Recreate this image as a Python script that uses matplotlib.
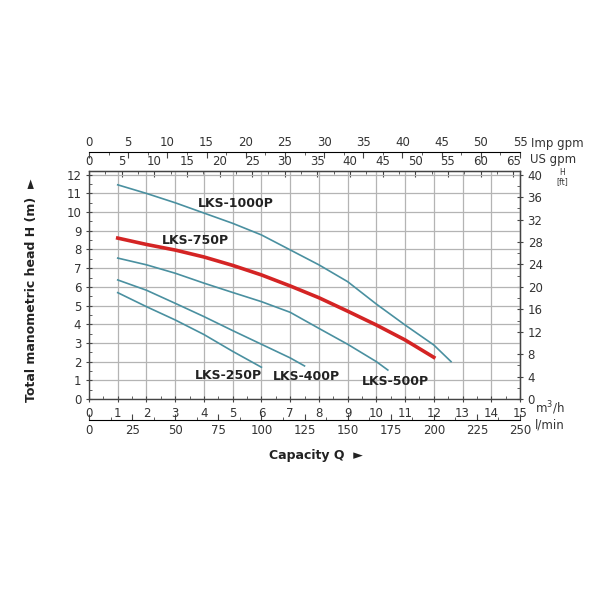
import matplotlib
matplotlib.use("Agg")
import matplotlib.pyplot as plt
from matplotlib.ticker import MultipleLocator

# ---- data (m3/h, m) ----
q_1000 = [1, 2, 3, 4, 5, 6, 7, 8, 9, 10, 11, 12, 12.6]
h_1000 = [11.46, 11.0, 10.5, 9.95, 9.4, 8.78, 7.98, 7.18, 6.28, 5.08, 3.96, 2.89, 2.0]
q_750 = [1, 2, 3, 4, 5, 6, 7, 8, 9, 10, 11, 12]
h_750 = [8.61, 8.27, 7.97, 7.6, 7.15, 6.64, 6.05, 5.42, 4.7, 3.96, 3.16, 2.23]
q_500 = [1, 2, 3, 4, 5, 6, 7, 8, 9, 10, 10.4]
h_500 = [7.54, 7.18, 6.73, 6.2, 5.7, 5.21, 4.64, 3.78, 2.93, 2.0, 1.55]
q_400 = [1, 2, 3, 4, 5, 6, 7, 7.5]
h_400 = [6.37, 5.82, 5.12, 4.41, 3.66, 2.93, 2.2, 1.77]
q_250 = [1, 2, 3, 4, 5, 6]
h_250 = [5.69, 4.94, 4.23, 3.45, 2.55, 1.7]

labels = ["LKS-1000P", "LKS-750P", "LKS-500P", "LKS-400P", "LKS-250P"]
label_pos = [(5.12, 10.45), (3.69, 8.46), (10.65, 0.93), (7.58, 1.2), (4.84, 1.28)]

TEAL = "#4a90a0"
RED = "#d42424"
TXT = "#333333"

fig = plt.figure(figsize=(6, 6), dpi=100)
ax = fig.add_axes([89/600, 1-399/600, (520-89)/600, (399-171)/600])
ax.set_xlim(0, 15)
ax.set_ylim(0, 12.2)

ax.set_xticks(range(0, 16))
ax.set_yticks(range(0, 13))
ax.xaxis.set_minor_locator(MultipleLocator(0.5))
ax.yaxis.set_minor_locator(MultipleLocator(0.5))
ax.grid(True, which="major", color="#b4b4b4", lw=0.9)
ax.tick_params(axis="both", which="major", labelsize=8.5, labelcolor=TXT, color="#444", length=4, direction="inout")
ax.tick_params(axis="both", which="minor", color="#444", length=2.5, direction="in")
for s in ax.spines.values():
    s.set_color("#444")
    s.set_linewidth(1)

series = [(q_1000, h_1000, TEAL, 1.2), (q_750, h_750, RED, 2.6),
          (q_500, h_500, TEAL, 1.2), (q_400, h_400, TEAL, 1.2), (q_250, h_250, TEAL, 1.2)]
for (q, h, c, lw) in series:
    ax.plot(q, h, color=c, lw=lw, zorder=3)

for lab, (x, y) in zip(labels, label_pos):
    ax.text(x, y, lab, ha="center", va="center", fontsize=9, fontweight="bold", color="#222")

# right axis in ft (scaled 40 ft = 12 m)
ry = ax.secondary_yaxis("right", functions=(lambda m: m * 40 / 12, lambda f: f * 12 / 40))
ry.set_yticks(range(0, 41, 4))
ry.yaxis.set_minor_locator(MultipleLocator(2))
ry.tick_params(which="major", labelsize=8.5, labelcolor=TXT, color="#444", length=4, direction="inout")
ry.tick_params(which="minor", color="#444", length=2.5, direction="in")

# US gpm top axis
us = ax.secondary_xaxis("top", functions=(lambda q: q * 4.403, lambda g: g / 4.403))
us.set_xticks(range(0, 66, 5))
us.xaxis.set_minor_locator(MultipleLocator(2.5))
us.tick_params(which="major", labelsize=8.5, labelcolor=TXT, color="#444", length=4, direction="in", pad=2)
us.tick_params(which="minor", color="#444", length=2.5, direction="in")

# Imp gpm axis (55 Imp gpm at 15 m3/h)
imp = ax.secondary_xaxis(1 + 19/228, functions=(lambda q: q * 55 / 15, lambda g: g * 15 / 55))
imp.set_xticks(range(0, 56, 5))
imp.xaxis.set_minor_locator(MultipleLocator(2.5))
imp.tick_params(which="major", labelsize=8.5, labelcolor=TXT, color="#444", length=4, direction="in", pad=2)
imp.tick_params(which="minor", color="#444", length=2.5, direction="in")

# l/min bottom axis
lm = ax.secondary_xaxis(-21/228, functions=(lambda q: q * 250 / 15, lambda l: l * 15 / 250))
lm.set_xticks(range(0, 251, 25))
lm.xaxis.set_minor_locator(MultipleLocator(12.5))
lm.tick_params(which="major", labelsize=8.5, labelcolor=TXT, color="#444", length=4, direction="in", pad=3)
lm.tick_params(which="minor", color="#444", length=2.5, direction="in")

# unit labels
fig.text(531/600, 1-143/600, "Imp gpm", fontsize=8.5, color=TXT, va="center", ha="left")
fig.text(530/600, 1-160/600, "US gpm", fontsize=8.5, color=TXT, va="center", ha="left")
fig.text(562/600, 1-177/600, "H\n[ft]", fontsize=5.5, color=TXT, va="center", ha="center", linespacing=1.0)
fig.text(535/600, 1-408/600, "m$^3$/h", fontsize=8.5, color=TXT, va="center", ha="left")
fig.text(535/600, 1-425/600, "l/min", fontsize=8.5, color=TXT, va="center", ha="left")

fig.text(316/600, 1-455/600, "Capacity Q  \u25BA", fontsize=9, fontweight="bold", color="#222", ha="center", va="center")
fig.text(32/600, 1-290/600, "Total manometric head H (m)  \u25BA", fontsize=9, fontweight="bold",
         color="#222", ha="center", va="center", rotation=90)

fig.savefig("out.png", dpi=100, facecolor="white")
